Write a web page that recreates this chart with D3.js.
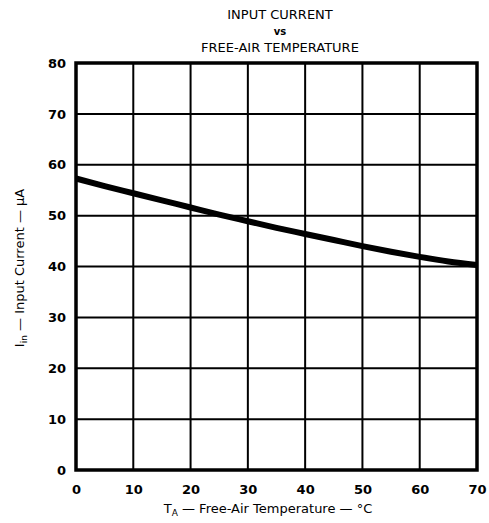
<!DOCTYPE html>
<html>
<head>
<meta charset="utf-8">
<script src="https://d3js.org/d3.v7.min.js"></script>
<style>
  body { margin: 0; background: #fff; }
  text { font-family: "DejaVu Sans", sans-serif; fill: #000; }
</style>
</head>
<body>
<div id="chart"></div>
<script>
// curve
const temps = [0, 5, 10, 15, 20, 25, 30, 35, 40, 45, 50, 55, 60, 65, 70];
const current = [57.3, 55.8, 54.4, 53.0, 51.6, 50.2, 48.9, 47.6, 46.4, 45.2, 44.0, 42.9, 41.9, 41.0, 40.3];
const xTicks = [0, 10, 20, 30, 40, 50, 60, 70];
const yTicks = [0, 10, 20, 30, 40, 50, 60, 70, 80];

const width = 489, height = 523;
const margin = { top: 63, right: 12, bottom: 53, left: 76 };

const svg = d3.select('#chart').append('svg')
  .attr('width', width)
  .attr('height', height);

const x = d3.scaleLinear().domain([0, 70]).range([margin.left, width - margin.right]);
const y = d3.scaleLinear().domain([0, 80]).range([height - margin.bottom, margin.top]);

// grid
svg.append('g')
  .selectAll('line.v')
  .data(xTicks)
  .join('line')
  .attr('x1', d => x(d)).attr('x2', d => x(d))
  .attr('y1', y(0)).attr('y2', y(80))
  .attr('stroke', '#000').attr('stroke-width', 2);

svg.append('g')
  .selectAll('line.h')
  .data(yTicks)
  .join('line')
  .attr('x1', x(0)).attr('x2', x(70))
  .attr('y1', d => y(d)).attr('y2', d => y(d))
  .attr('stroke', '#000').attr('stroke-width', 2);

// frame
svg.append('rect')
  .attr('x', x(0)).attr('y', y(80))
  .attr('width', x(70) - x(0)).attr('height', y(0) - y(80))
  .attr('fill', 'none').attr('stroke', '#000').attr('stroke-width', 3.5);

// tick labels
const xAxis = d3.axisBottom(x).tickValues(xTicks).tickSize(0).tickPadding(15);
const gx = svg.append('g').attr('transform', `translate(0,${y(0)})`).call(xAxis);
gx.select('.domain').remove();
gx.selectAll('text').style('font-size', '13px').style('font-weight', 'bold')
  .style('font-family', '"DejaVu Sans", sans-serif');

const yAxis = d3.axisLeft(y).tickValues(yTicks).tickSize(0).tickPadding(10);
const gy = svg.append('g').attr('transform', `translate(${x(0)},0)`).call(yAxis);
gy.select('.domain').remove();
gy.selectAll('text').style('font-size', '13px').style('font-weight', 'bold')
  .style('font-family', '"DejaVu Sans", sans-serif');

// curve
const line = d3.line()
  .x((d, i) => x(temps[i]))
  .y(d => y(d))
  .curve(d3.curveMonotoneX);

svg.append('path')
  .datum(current)
  .attr('d', line)
  .attr('fill', 'none')
  .attr('stroke', '#000')
  .attr('stroke-width', 6);

// title
const title = svg.append('g').attr('text-anchor', 'middle');
title.append('text').attr('x', 280).attr('y', 19).style('font-size', '13px').text('INPUT CURRENT');
title.append('text').attr('x', 280).attr('y', 35).style('font-size', '10px').style('font-weight', 'bold').text('vs');
title.append('text').attr('x', 280).attr('y', 52).style('font-size', '13px').text('FREE-AIR TEMPERATURE');

// axis titles
const xt = svg.append('text')
  .attr('x', 268).attr('y', 513)
  .attr('text-anchor', 'middle')
  .style('font-size', '13px');
xt.append('tspan').text('T');
xt.append('tspan').attr('dy', 3).style('font-size', '9px').text('A');
xt.append('tspan').attr('dy', -3).text(' \u2014 Free-Air Temperature \u2014 \u00B0C');

const yt = svg.append('text')
  .attr('transform', 'translate(24,268) rotate(-90)')
  .attr('text-anchor', 'middle')
  .style('font-size', '13px');
yt.append('tspan').text('I');
yt.append('tspan').attr('dy', 3).style('font-size', '9px').text('in');
yt.append('tspan').attr('dy', -3).text(' \u2014 Input Current \u2014 \u03BCA');
</script>
</body>
</html>
